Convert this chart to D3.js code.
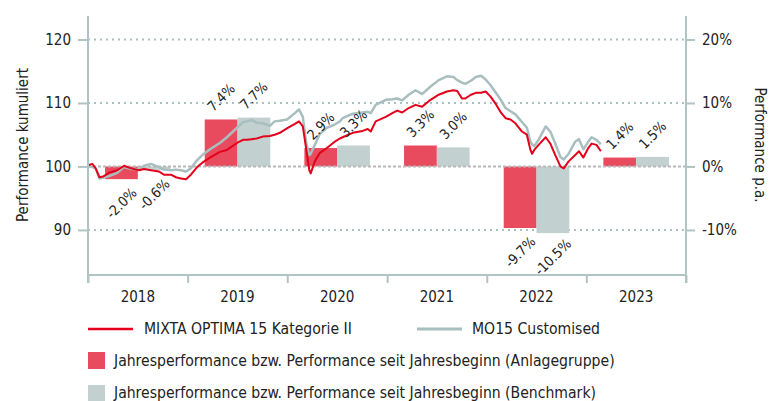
<!DOCTYPE html>
<html>
<head>
<meta charset="utf-8">
<script src="https://cdn.jsdelivr.net/npm/d3@7"></script>
<style>
  body { margin: 0; background: #fff; }
  svg text { font-family: "DejaVu Sans Condensed", "DejaVu Sans", sans-serif; fill: #222; }
</style>
</head>
<body>
<svg class="chart" width="778" height="401"></svg>
<script>
// cumulative index
const dates = ["2018-01-01","2018-01-17","2018-01-29","2018-02-12","2018-02-25","2018-03-19","2018-04-18","2018-05-13","2018-06-08","2018-07-07",
  "2018-07-25","2018-08-20","2018-09-18","2018-10-06","2018-11-01","2018-11-19","2018-12-08","2018-12-26","2019-01-13","2019-02-05",
  "2019-02-24","2019-03-24","2019-04-29","2019-05-25","2019-07-01","2019-07-23","2019-08-06","2019-08-24","2019-09-11","2019-10-03",
  "2019-10-29","2019-11-16","2019-12-05","2019-12-31","2020-01-29","2020-02-13","2020-02-27","2020-03-11","2020-03-22","2020-03-27",
  "2020-04-11","2020-04-29","2020-05-25","2020-06-23","2020-07-12","2020-07-22","2020-08-28","2020-10-03","2020-10-22","2020-11-02",
  "2020-11-20","2020-12-27","2021-01-20","2021-02-07","2021-02-25","2021-03-21","2021-04-15","2021-05-09","2021-06-09","2021-07-09",
  "2021-08-08","2021-09-01","2021-09-15","2021-10-02","2021-10-14","2021-11-04","2021-11-22","2021-12-11","2021-12-28","2022-01-15",
  "2022-02-02","2022-02-20","2022-03-11","2022-03-29","2022-04-16","2022-05-10","2022-05-28","2022-06-10","2022-06-16","2022-06-24",
  "2022-07-10","2022-08-05","2022-08-22","2022-09-09","2022-09-28","2022-10-10","2022-10-28","2022-11-21","2022-12-05","2022-12-21",
  "2023-01-08","2023-01-20","2023-02-07","2023-02-23"];

const fundValues = [100.2,100.4,99.7,98.3,98.4,99.0,99.4,100.1,99.7,99.4,
  99.6,99.4,99.2,98.7,98.7,98.3,98.1,98.0,98.7,99.9,
  100.6,101.4,102.3,102.6,103.7,104.2,104.2,104.3,104.4,104.7,
  104.8,105.0,105.3,106.0,106.7,107.1,106.3,102.6,99.4,98.9,
  100.8,102.1,102.9,103.9,104.4,104.6,105.3,105.6,105.9,105.5,
  107.1,107.8,108.4,108.8,108.5,109.2,109.7,109.4,110.5,111.3,
  111.8,112.0,111.9,110.7,110.7,111.3,111.6,111.6,111.8,111.0,
  109.9,108.6,107.6,107.4,106.8,105.5,105.0,102.6,102.0,102.6,
  103.4,104.6,103.6,101.8,100.0,99.7,100.8,101.8,102.4,101.4,
  102.9,103.6,103.4,102.4];

const benchValues = [100.1,99.9,99.7,98.1,98.2,98.5,99.0,99.9,99.6,99.6,
  100.1,100.4,99.9,99.5,99.4,99.5,99.4,99.2,99.7,101.0,
  101.8,102.7,103.7,104.6,106.1,107.0,107.1,107.3,106.9,106.8,
  106.4,107.1,107.2,107.4,108.4,109.0,107.8,103.6,101.8,102.0,
  103.4,105.1,106.1,106.6,107.1,107.6,108.3,108.5,108.6,108.4,
  109.7,110.5,110.6,110.7,110.4,111.3,112.0,111.4,112.6,113.6,
  114.2,114.1,113.6,113.2,113.0,113.5,114.1,114.3,113.7,112.8,
  111.7,110.6,109.2,108.7,108.2,107.0,106.1,103.9,103.5,103.2,
  104.2,106.3,105.5,103.6,101.5,101.1,102.0,103.9,104.3,102.7,
  103.9,104.6,104.2,103.5];

// yearly performance in %
const years = ["2018","2019","2020","2021","2022","2023"];
const fundYearly = [-2.0, 7.4, 2.9, 3.3, -9.7, 1.4];
const benchYearly = [-0.6, 7.7, 3.3, 3.0, -10.5, 1.5];

const leftTicks = [90, 100, 110, 120];
const rightTicks = [-10, 0, 10, 20];

const fundName = "MIXTA OPTIMA 15 Kategorie II";
const benchName = "MO15 Customised";
const barFundName = "Jahresperformance bzw. Performance seit Jahresbeginn (Anlagegruppe)";
const barBenchName = "Jahresperformance bzw. Performance seit Jahresbeginn (Benchmark)";

const red = "#e3001b", redBar = "#e84b5e";
const grey = "#a9bebe", greyBar = "#c3d0d0";
const axisCol = "#b0c4c3";

// plot area
const plotL = 88, plotR = 686, plotT = 16, plotB = 275;

const svg = d3.select(".chart");

const parse = d3.timeParse("%Y-%m-%d");

const x = d3.scaleTime()
  .domain([new Date(2018, 0, 1), new Date(2024, 0, 1)])
  .range([plotL, plotR]);

const x0 = d3.scaleBand().domain(years).range([plotL, plotR]).padding(0);
const x1 = d3.scaleBand().domain(["fund", "bench"])
  .range([0, x0.bandwidth()]).paddingInner(0).paddingOuter(0.52);

const y = d3.scaleLinear().domain([82.9, 123.7]).range([plotB, plotT]);
const yp = d3.scaleLinear().domain([-17.1, 23.7]).range([plotB, plotT]);

// grid lines
svg.append("g").selectAll("line")
  .data(leftTicks.filter(d => d != 100))
  .enter().append("line")
  .attr("x1", plotL).attr("x2", plotR)
  .attr("y1", d => y(d)).attr("y2", d => y(d))
  .attr("stroke", "#a9c1c0")
  .attr("stroke-width", 2)
  .attr("stroke-dasharray", "2,4");

// bars
const barData = [];
years.forEach((yr, i) => {
  barData.push({year: yr, key: "fund", v: fundYearly[i]});
  barData.push({year: yr, key: "bench", v: benchYearly[i]});
});

svg.append("g").selectAll("rect")
  .data(barData)
  .enter().append("rect")
  .attr("x", d => x0(d.year) + x1(d.key))
  .attr("width", x1.bandwidth())
  .attr("y", d => yp(Math.max(0, d.v)))
  .attr("height", d => Math.abs(yp(d.v) - yp(0)))
  .attr("fill", d => d.key == "fund" ? redBar : greyBar);

// zero line
svg.append("line")
  .attr("x1", plotL).attr("x2", plotR)
  .attr("y1", y(100)).attr("y2", y(100))
  .attr("stroke", "#b8b8b8")
  .attr("stroke-width", 2)
  .attr("stroke-dasharray", "3,2");

// lines
const fundSeries = dates.map((d, i) => ({date: parse(d), v: fundValues[i]}));
const benchSeries = dates.map((d, i) => ({date: parse(d), v: benchValues[i]}));

const line = d3.line()
  .x(d => x(d.date))
  .y(d => y(d.v));

svg.append("path")
  .datum(benchSeries)
  .attr("d", line)
  .attr("fill", "none")
  .attr("stroke", grey)
  .attr("stroke-width", 2.5)
  .attr("stroke-linejoin", "round");

svg.append("path")
  .datum(fundSeries)
  .attr("d", line)
  .attr("fill", "none")
  .attr("stroke", red)
  .attr("stroke-width", 2)
  .attr("stroke-linejoin", "round");

// bar labels
svg.append("g").selectAll("text")
  .data(barData)
  .enter().append("text")
  .attr("transform", d => {
    const cx = x0(d.year) + x1(d.key) + x1.bandwidth() / 2;
    const cy = d.v >= 0 ? yp(d.v) - 22 : yp(d.v) + 24;
    return "translate(" + cx + "," + cy + ") rotate(-45)";
  })
  .attr("text-anchor", "middle")
  .attr("dy", "0.35em")
  .style("font-size", "14px")
  .text(d => d.v.toFixed(1) + "%");

// axes
const yAxisL = d3.axisLeft(y).tickValues(leftTicks).tickSize(10).tickPadding(7);
const gL = svg.append("g")
  .attr("transform", "translate(" + plotL + ",0)")
  .call(yAxisL);

const yAxisR = d3.axisRight(yp).tickValues(rightTicks).tickSize(9).tickPadding(7)
  .tickFormat(d => d + "%");
const gR = svg.append("g")
  .attr("transform", "translate(" + plotR + ",0)")
  .call(yAxisR);

const xAxis = d3.axisBottom(x)
  .tickValues(d3.range(2018, 2025).map(v => new Date(v, 0, 1)))
  .tickSize(8)
  .tickFormat("");
const gX = svg.append("g")
  .attr("transform", "translate(0," + plotB + ")")
  .call(xAxis);

[gL, gR, gX].forEach(g => {
  g.select(".domain").attr("stroke", axisCol).attr("stroke-width", 2);
  g.selectAll(".tick line").attr("stroke", axisCol).attr("stroke-width", 2);
  g.selectAll(".tick text").style("font-size", "15px").attr("fill", "#222");
});
gL.select(".domain").attr("d", "M0," + plotT + "V" + (plotB + 8));
gR.select(".domain").attr("d", "M0," + plotT + "V" + (plotB + 8));
gX.select(".domain").attr("d", "M" + plotL + ",0H" + plotR);

// year labels, centred in each band
svg.append("g").selectAll("text")
  .data(years)
  .enter().append("text")
  .attr("x", d => x0(d) + x0.bandwidth() / 2)
  .attr("y", 302)
  .attr("text-anchor", "middle")
  .style("font-size", "15px")
  .text(d => d);

// axis titles
svg.append("text")
  .attr("transform", "translate(23,145) rotate(-90)")
  .attr("text-anchor", "middle")
  .attr("dy", "0.35em")
  .style("font-size", "15px")
  .text("Performance kumuliert");

svg.append("text")
  .attr("transform", "translate(760,145) rotate(90)")
  .attr("text-anchor", "middle")
  .attr("dy", "0.35em")
  .style("font-size", "15px")
  .text("Performance p.a.");

// legend
const legend = svg.append("g").style("font-size", "15.6px");
legend.append("line").attr("x1", 88).attr("x2", 133).attr("y1", 329).attr("y2", 329)
  .attr("stroke", red).attr("stroke-width", 2.5);
legend.append("text").attr("x", 144).attr("y", 334).text(fundName);
legend.append("line").attr("x1", 417).attr("x2", 462).attr("y1", 329).attr("y2", 329)
  .attr("stroke", grey).attr("stroke-width", 3);
legend.append("text").attr("x", 472).attr("y", 334).text(benchName);

legend.append("rect").attr("x", 88).attr("y", 352).attr("width", 17).attr("height", 17).attr("fill", redBar);
legend.append("text").attr("x", 114).attr("y", 366).text(barFundName);
legend.append("rect").attr("x", 88).attr("y", 385).attr("width", 17).attr("height", 17).attr("fill", greyBar);
legend.append("text").attr("x", 114).attr("y", 398).text(barBenchName);
</script>
</body>
</html>
